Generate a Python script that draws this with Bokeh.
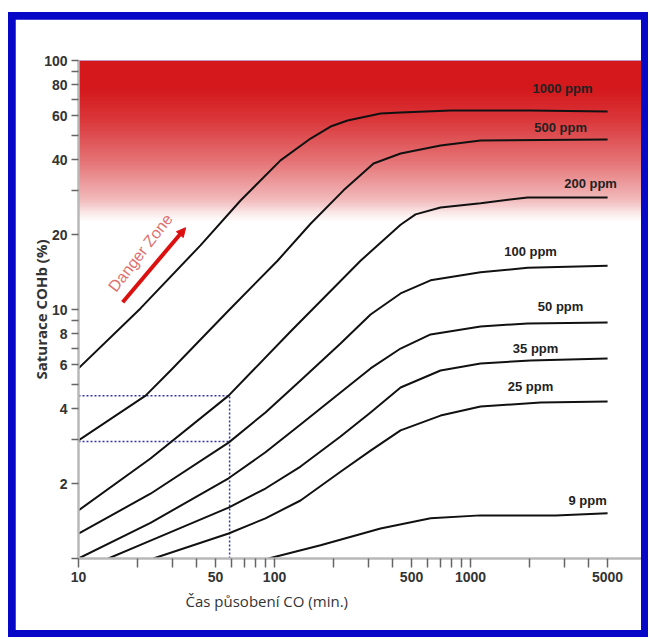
import numpy as np
from bokeh.plotting import figure
from bokeh.models import FixedTicker, BasicTickFormatter, Title, Arrow, NormalHead, Range1d
from bokeh.layouts import column
from bokeh.embed import file_html
from bokeh.resources import INLINE
from bokeh.core.properties import value

# ---- data (time in min, COHb saturation in %) ----
x_1000 = [10, 20.7, 41.9, 67.1, 107.3, 152.7, 193.1, 235.7, 347.4, 439.5, 790.7, 2023, 5000]
y_1000 = [5.80, 10.1, 18.1, 27.4, 39.7, 48.6, 54.3, 57.4, 61.2, 61.8, 63.0, 63.0, 62.4]
x_500 = [10, 22.0, 29.5, 58.3, 103.6, 152.7, 224.9, 320.0, 439.5, 702.9, 1124.6, 5000]
y_500 = [2.98, 4.51, 5.69, 9.91, 15.7, 22.1, 30.1, 38.6, 42.3, 45.6, 47.7, 48.2]
x_200 = [10, 23.3, 58.3, 120.7, 274.7, 439.5, 524.1, 702.9, 1124.6, 1953, 5000]
y_200 = [1.56, 2.52, 4.51, 8.16, 15.7, 21.9, 24.1, 25.7, 26.7, 28.2, 28.2]
x_100 = [10, 23.3, 58.3, 89.9, 135.7, 217.1, 309.0, 439.5, 625.1, 1124.6, 1953, 5000]
y_100 = [1.26, 1.82, 2.92, 3.86, 5.19, 7.30, 9.55, 11.6, 13.1, 14.1, 14.7, 15.0]
x_50 = [10, 23.3, 58.3, 89.9, 135.7, 217.1, 309.0, 439.5, 625.1, 1124.6, 1953, 5000]
y_50 = [1.0, 1.39, 2.10, 2.67, 3.45, 4.64, 5.80, 6.97, 7.94, 8.55, 8.79, 8.87]
x_35 = [14.2, 23.3, 58.3, 89.9, 135.7, 217.1, 309.0, 439.5, 702.9, 1124.6, 2023, 5000]
y_35 = [1.0, 1.18, 1.60, 1.91, 2.34, 3.09, 3.86, 4.86, 5.69, 6.07, 6.24, 6.36]
x_25 = [24.1, 58.3, 89.9, 135.7, 217.1, 309.0, 439.5, 702.9, 1124.6, 2275, 5000]
y_25 = [1.0, 1.26, 1.45, 1.71, 2.23, 2.71, 3.27, 3.75, 4.08, 4.23, 4.27]
x_9 = [93.2, 171.7, 347.4, 625.1, 1124.6, 2715, 5000]
y_9 = [1.0, 1.13, 1.32, 1.45, 1.49, 1.49, 1.52]

series_names = ["1000 ppm", "500 ppm", "200 ppm", "100 ppm", "50 ppm", "35 ppm", "25 ppm", "9 ppm"]
label_x = [2946, 2879, 4093, 2023, 2879, 2147, 2023, 3954]
label_y = [77.2, 53.8, 32.1, 17.1, 10.3, 6.97, 4.91, 1.71]

# reference reading: ~60 min exposure
ref_time = 59
ref_levels = [4.5, 2.95]

x_major = [10, 50, 100, 500, 1000, 5000]
x_minor = [20, 30, 40, 60, 70, 80, 90, 200, 300, 400, 600, 700, 800, 900, 2000, 3000, 4000]
y_major = [2, 4, 6, 8, 10, 20, 40, 60, 80, 100]
y_minor = [1, 3, 5, 7, 9, 30, 50, 70, 90]

X_START, X_END = 10, 7447
Y_START, Y_END = 1, 100

# danger zone gradient stops (styling)
grad_y = [22.4, 23.9, 27.4, 39.7, 57.4, 75.8, 100]
grad_a = [0.0, 0.08, 0.3, 0.62, 0.87, 1.0, 1.0]

p = figure(width=626, height=611, x_axis_type="log", y_axis_type="log",
           x_range=Range1d(X_START, X_END), y_range=Range1d(Y_START, Y_END),
           output_backend="svg", toolbar_location=None,
           min_border_left=63, min_border_right=0, min_border_top=41, min_border_bottom=72,
           margin=(7, 7, 7, 7))
p.title.visible = False
p.grid.visible = False
p.outline_line_color = None
p.background_fill_color = "white"
p.border_fill_color = "white"

# gradient image
n = 200
ly = np.linspace(np.log10(grad_y[0]), np.log10(grad_y[-1]), n)
alpha = np.interp(ly, np.log10(grad_y), grad_a)
img = np.empty((n, 1), dtype=np.uint32)
view = img.view(dtype=np.uint8).reshape((n, 1, 4))
view[:, :, 0] = 212
view[:, :, 1] = 24
view[:, :, 2] = 28
view[:, 0, 3] = (alpha * 255).astype(np.uint8)
p.image_rgba(image=[img], x=X_START, y=grad_y[0], dw=X_END - X_START, dh=grad_y[-1] - grad_y[0])

# dotted reference lines
p.line([ref_time, ref_time], [Y_START, max(ref_levels)], line_color="#3434b0", line_width=1.5, line_dash="2 2")
for lv in ref_levels:
    p.line([X_START, ref_time], [lv, lv], line_color="#3434b0", line_width=1.5, line_dash="2 2")

for xs, ys in [(x_1000, y_1000), (x_500, y_500), (x_200, y_200), (x_100, y_100),
               (x_50, y_50), (x_35, y_35), (x_25, y_25), (x_9, y_9)]:
    p.line(xs, ys, line_color="#111111", line_width=2, line_join="round")

p.text(x=label_x, y=label_y, text=series_names, text_font=value("Liberation Sans"),
       text_font_style="bold", text_font_size="13px", text_color="#222222",
       text_align="center", text_baseline="middle")

# Danger zone annotation
p.add_layout(Arrow(end=NormalHead(size=9, fill_color="#dd1010", line_color="#dd1010"),
                   x_start=16.8, y_start=10.7, x_end=35.2, y_end=21.3,
                   line_color="#dd1010", line_width=4))
p.text(x=[20.7], y=[16.9], text=["Danger Zone"], angle=0.91, text_color="#e07070",
       text_font=value("Liberation Sans"), text_font_size="16px",
       text_align="center", text_baseline="middle")

for ax, maj, mnr, tl in [(p.xaxis[0], x_major, x_minor, 9), (p.yaxis[0], y_major, y_minor, 7)]:
    ax.ticker = FixedTicker(ticks=maj, minor_ticks=mnr)
    ax.formatter = BasicTickFormatter()
    ax.axis_line_color = "#b8b8b8"
    ax.axis_line_width = 2.5
    ax.major_tick_line_color = "#666666"
    ax.minor_tick_line_color = "#666666"
    ax.major_tick_line_width = 1.5
    ax.minor_tick_line_width = 1.5
    ax.major_tick_in = 0
    ax.minor_tick_in = 0
    ax.major_tick_out = tl
    ax.minor_tick_out = tl
    ax.major_label_text_font = "Liberation Sans"
    ax.major_label_text_font_style = "bold"
    ax.major_label_text_font_size = "14px"
    ax.major_label_text_color = "#333333"
    ax.major_label_standoff = 4

p.yaxis.axis_label = "Saturace COHb (%)"
p.yaxis.axis_label_text_font = "Open Sans"
p.yaxis.axis_label_text_font_size = "15px"
p.yaxis.axis_label_text_font_style = "bold"
p.yaxis.axis_label_text_color = "#333333"
p.yaxis.axis_label_standoff = -10

xt = Title(text="Čas působení CO (min.)", align="left", offset=107, text_font="Open Sans",
           text_font_size="15px", text_font_style="normal", text_color="#333333", standoff=8)
p.add_layout(xt, "below")

layout = column(p, styles={"background-color": "#0707c8"}, margin=(12, 0, 0, 8))

open("out.html", "w").write(file_html(layout, INLINE))
